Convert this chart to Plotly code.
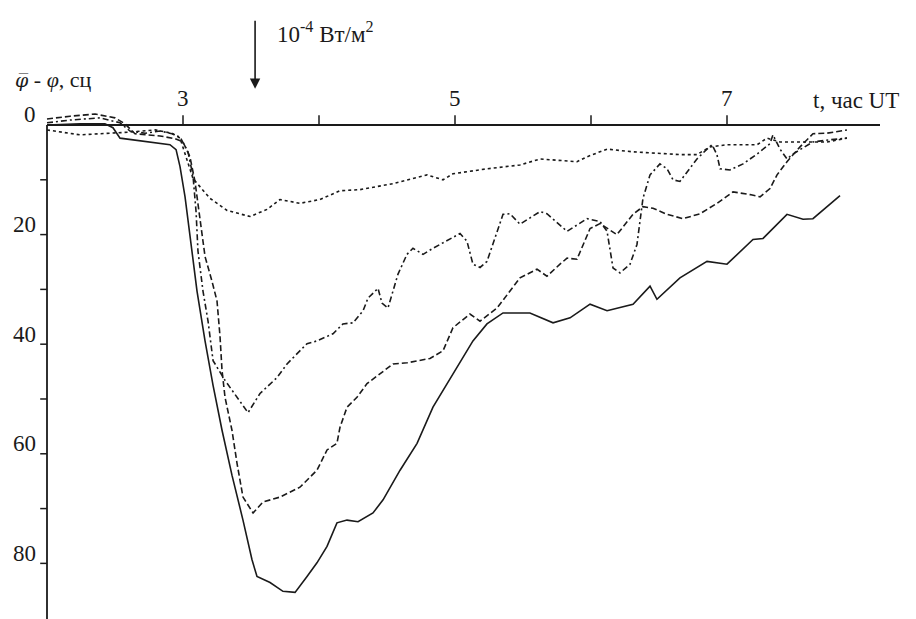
import plotly.graph_objects as go

# ---------------- data (hours UT, phase deviation) ----------------
t_solid = [2.000, 2.243, 2.426, 2.485, 2.537, 2.757, 2.904, 2.949, 2.978, 3.015, 3.051, 3.103,
           3.162, 3.221, 3.287, 3.360, 3.441, 3.507, 3.544, 3.640, 3.735, 3.824, 3.912, 3.985,
           4.059, 4.132, 4.206, 4.287, 4.397, 4.471, 4.596, 4.721, 4.838, 4.985, 5.132, 5.235,
           5.353, 5.551, 5.721, 5.846, 5.993, 6.118, 6.309, 6.434, 6.485, 6.654, 6.853, 7.000,
           7.191, 7.265, 7.441, 7.559, 7.632, 7.831]
v_solid = [0.0, -0.2, -0.2, 0.5, 2.4, 3.1, 3.6, 4.5, 7.6, 13.1, 20.3, 30.3,
           39.4, 47.5, 55.7, 63.9, 72.1, 79.3, 82.4, 83.5, 85.1, 85.3, 82.4, 79.9,
           76.9, 72.6, 72.1, 72.4, 70.8, 68.4, 63.0, 58.1, 51.5, 45.4, 39.4, 36.3,
           34.3, 34.3, 36.1, 35.2, 32.7, 33.9, 32.7, 29.4, 31.8, 27.9, 24.9, 25.4,
           20.9, 20.7, 16.3, 17.2, 17.1, 12.9]

t_dash = [2.000, 2.169, 2.353, 2.500, 2.574, 2.647, 2.831, 2.941, 3.000, 3.051, 3.088, 3.125,
          3.162, 3.213, 3.250, 3.272, 3.287, 3.309, 3.360, 3.397, 3.441, 3.515, 3.588, 3.713,
          3.860, 3.985, 4.059, 4.132, 4.154, 4.206, 4.279, 4.353, 4.449, 4.544, 4.647, 4.816,
          4.912, 4.985, 5.110, 5.184, 5.309, 5.478, 5.603, 5.676, 5.772, 5.824, 5.897, 5.941,
          5.993, 6.066, 6.191, 6.309, 6.382, 6.456, 6.559, 6.676, 6.801, 6.926, 7.044, 7.169,
          7.243, 7.316, 7.368, 7.441, 7.537, 7.632, 7.735, 7.882]
v_dash = [-1.1, -1.6, -2.0, -1.3, -0.2, 1.6, 2.0, 2.5, 3.1, 5.8, 10.3, 17.6,
          24.0, 28.5, 32.1, 38.5, 44.8, 49.7, 55.7, 61.7, 67.9, 70.8, 68.8, 67.9,
          66.1, 63.0, 59.3, 58.1, 55.2, 51.5, 49.7, 47.2, 45.4, 43.6, 43.4, 42.6,
          41.2, 37.0, 34.5, 35.8, 33.4, 27.9, 26.3, 27.6, 25.4, 24.3, 24.5, 21.8,
          18.9, 18.0, 20.0, 16.3, 14.9, 15.2, 16.3, 17.1, 16.2, 14.3, 12.2, 12.7,
          13.1, 11.6, 9.1, 6.7, 4.0, 1.6, 1.5, 0.9]

t_dashdot = [2.000, 2.169, 2.390, 2.537, 2.610, 2.721, 2.831, 2.919, 2.978, 3.037, 3.074, 3.096,
             3.110, 3.147, 3.184, 3.221, 3.309, 3.419, 3.478, 3.566, 3.691, 3.765, 3.912, 3.985,
             4.103, 4.176, 4.250, 4.324, 4.360, 4.434, 4.463, 4.507, 4.544, 4.581, 4.647, 4.691,
             4.765, 4.838, 5.037, 5.088, 5.132, 5.184, 5.235, 5.309, 5.353, 5.404, 5.478, 5.625,
             5.676, 5.824, 5.971, 6.066, 6.118, 6.162, 6.213, 6.287, 6.338, 6.360, 6.382, 6.434,
             6.507, 6.559, 6.603, 6.654, 6.706, 6.779, 6.853, 6.890, 6.926, 6.949, 7.022, 7.118,
             7.221, 7.316, 7.338, 7.390, 7.441, 7.485, 7.537, 7.632, 7.757, 7.882]
v_dashdot = [-0.4, -0.9, -1.3, -0.4, 1.1, 1.5, 1.1, 1.6, 2.2, 4.9, 9.4, 15.8,
             23.0, 30.3, 35.8, 43.0, 46.6, 50.3, 52.5, 49.0, 46.1, 43.6, 39.9, 39.4,
             38.1, 36.3, 36.1, 33.9, 31.6, 29.8, 32.5, 33.4, 30.3, 27.2, 23.6, 22.5,
             23.6, 22.5, 19.8, 21.2, 25.4, 26.0, 24.9, 19.4, 16.3, 16.2, 18.1, 15.8,
             16.2, 19.4, 17.1, 17.6, 19.4, 26.1, 27.0, 25.4, 21.8, 17.6, 13.4, 9.1,
             7.1, 8.0, 10.0, 10.3, 8.5, 6.2, 4.4, 3.6, 5.4, 8.0, 8.2, 7.1,
             5.3, 3.4, 1.8, 4.4, 6.2, 5.3, 4.5, 3.1, 2.7, 2.4]

t_dot = [2.000, 2.243, 2.463, 2.610, 2.794, 2.919, 2.978, 3.029, 3.074, 3.199, 3.324, 3.493,
         3.618, 3.713, 3.860, 4.007, 4.154, 4.301, 4.544, 4.794, 4.912, 4.985, 5.235, 5.478,
         5.625, 5.897, 5.971, 6.118, 6.309, 6.654, 6.779, 6.875, 7.000, 7.221, 7.294, 7.390,
         7.537, 7.735, 7.882]
v_dot = [0.9, 1.8, 1.5, 1.3, 0.9, 1.5, 2.4, 6.2, 9.8, 13.4, 15.6, 16.7,
         15.4, 13.6, 14.3, 13.6, 12.0, 11.8, 10.7, 9.1, 10.0, 8.9, 8.0, 7.3,
         6.2, 6.7, 5.8, 4.4, 4.9, 5.4, 5.4, 4.0, 3.6, 3.6, 2.4, 3.1,
         3.1, 3.1, 2.4]

x_ticks = [3, 4, 5, 6, 7]
x_tick_labels = ["3", "", "5", "", "7"]
y_ticks = [10, 20, 30, 40, 50, 60, 70, 80]
y_label_values = [0, 20, 40, 60, 80]
y_label_texts = ["0", "20", "40", "60", "80"]

x_axis_start, x_axis_end = 2.0, 8.125
y_axis_bottom = 90.2
arrow_time = 3.53

x_title = "t, час UT"
y_title = ('<span style="font-family:DejaVu Serif;font-size:19px"><i>φ\u0305</i></span>'
           ' - <i>φ</i>, сц')
flux_text = "10<sup>-4</sup> Вт/м<sup>2</sup>"

# ---------------- figure ----------------
INK = "#1a1a1a"
FONT = "Liberation Serif"
FS = 23

fig = go.Figure()
series = [
    (t_solid, v_solid, "solid"),
    (t_dash, v_dash, "6px,3px"),
    (t_dashdot, v_dashdot, "6px,3px,2px,3px"),
    (t_dot, v_dot, "3px,3px"),
]
for tx, vy, dash in series:
    fig.add_trace(go.Scatter(x=tx, y=vy, mode="lines",
                             line=dict(color=INK, width=1.6, dash=dash),
                             showlegend=False, hoverinfo="skip"))

shapes = []
shapes.append(dict(type="line", xref="x", yref="y", x0=x_axis_start, x1=x_axis_end, y0=0, y1=0,
                   line=dict(color=INK, width=1.8)))
shapes.append(dict(type="line", xref="x", yref="y", x0=x_axis_start, x1=x_axis_start, y0=0, y1=y_axis_bottom,
                   line=dict(color=INK, width=1.8)))
annotations = []
for xv, lab in zip(x_ticks, x_tick_labels):
    shapes.append(dict(type="line", xref="x", yref="y", x0=xv, x1=xv, y0=0, y1=-1.8,
                       line=dict(color=INK, width=1.5)))
    if lab:
        annotations.append(dict(x=xv, y=0, xref="x", yref="y", text=lab, showarrow=False,
                                xanchor="center", yanchor="bottom", yshift=12,
                                font=dict(family=FONT, size=FS, color=INK)))
for yv in y_ticks:
    shapes.append(dict(type="line", xref="x", yref="y", x0=x_axis_start - 0.05, x1=x_axis_start, y0=yv, y1=yv,
                       line=dict(color=INK, width=1.5)))
for yv, lab in zip(y_label_values, y_label_texts):
    annotations.append(dict(x=x_axis_start, y=yv, xref="x", yref="y", text=lab, showarrow=False,
                            xanchor="right", yanchor="middle", xshift=-9, yshift=10,
                            font=dict(family=FONT, size=FS, color=INK)))

annotations.append(dict(x=7.62, y=0, xref="x", yref="y", text=x_title, showarrow=False,
                        xanchor="left", yanchor="bottom", yshift=10,
                        font=dict(family=FONT, size=FS, color=INK)))
annotations.append(dict(x=0.014, y=0.872, xref="paper", yref="paper", text=y_title, showarrow=False,
                        xanchor="left", yanchor="middle",
                        font=dict(family=FONT, size=22, color=INK)))
annotations.append(dict(x=arrow_time, y=-6.6, ax=arrow_time, ay=-19.3, xref="x", yref="y",
                        axref="x", ayref="y", text="", showarrow=True,
                        arrowhead=2, arrowsize=1.3, arrowwidth=1.6, arrowcolor=INK))
annotations.append(dict(x=3.68, y=-16.8, xref="x", yref="y", text=flux_text, showarrow=False,
                        xanchor="left", yanchor="middle",
                        font=dict(family=FONT, size=FS, color=INK)))

fig.update_layout(
    width=916, height=619,
    margin=dict(l=0, r=0, t=0, b=0),
    paper_bgcolor="white", plot_bgcolor="white",
    xaxis=dict(range=[1.6544, 8.3897], visible=False, fixedrange=True),
    yaxis=dict(range=[90.15, -22.81], visible=False, fixedrange=True),
    shapes=shapes, annotations=annotations,
    showlegend=False,
)

fig.write_html("out.html")
